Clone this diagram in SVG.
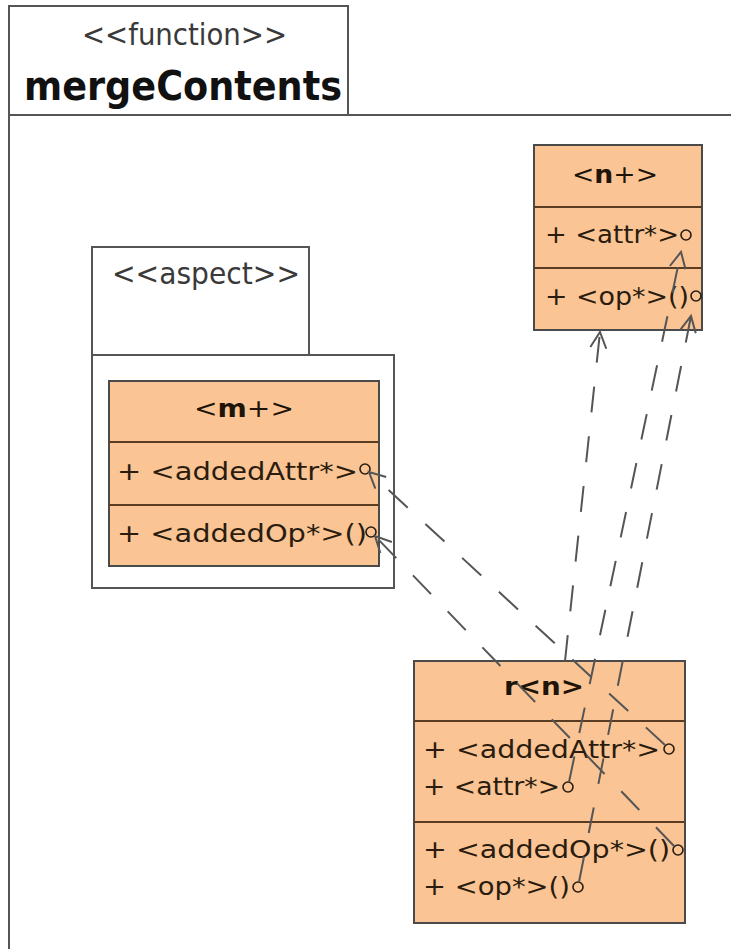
<svg xmlns="http://www.w3.org/2000/svg" width="731" height="949" viewBox="0 0 731 949">
<style>
  .frame { fill: #ffffff; stroke: #555555; stroke-width: 2; }
  .line { stroke: #555555; stroke-width: 2; fill: none; }
  .cls { fill: #FAC494; stroke: #4a4a4a; stroke-width: 2; }
  .div { stroke: #5a3c22; stroke-width: 2; }
  .st { font-family: "DejaVu Sans", "Liberation Sans", sans-serif; font-size: 30px; fill: #3a3a3a; }
  .name { font-family: "DejaVu Sans", "Liberation Sans", sans-serif; font-size: 41px; font-weight: bold; fill: #111111; }
  .title { font-family: "DejaVu Sans", "Liberation Sans", sans-serif; font-size: 25px; fill: #1e1408; }
  .b { font-weight: bold; }
  .mem { font-family: "DejaVu Sans", "Liberation Sans", sans-serif; font-size: 24px; fill: #2a1c0e; }
  .anchor { fill: none; stroke: #2a1c0e; stroke-width: 1.6; }
  .conn { fill: none; stroke: #555555; stroke-width: 2; stroke-dasharray: 26 24; }
</style>
<defs>
  <marker id="open" markerUnits="userSpaceOnUse" markerWidth="22" markerHeight="22" refX="17" refY="9" orient="auto">
    <path d="M1,1 L17,9 L1,17" fill="none" stroke="#555555" stroke-width="2"/>
  </marker>
</defs>

<g id="function-frame">
  <rect class="frame" x="9" y="6" width="339" height="109"/>
  <line class="line" x1="9" y1="115" x2="731" y2="115"/>
  <line class="line" x1="9" y1="6" x2="9" y2="949"/>
  <text class="st" x="82" y="45" textLength="205" lengthAdjust="spacingAndGlyphs">&lt;&lt;function&gt;&gt;</text>
  <text class="name" x="24" y="100" textLength="318" lengthAdjust="spacingAndGlyphs">mergeContents</text>
</g>

<g id="aspect-package">
  <rect class="frame" x="92" y="247" width="217" height="108"/>
  <rect class="frame" x="92" y="355" width="302" height="233"/>
  <text class="st" x="112" y="284" textLength="188" lengthAdjust="spacingAndGlyphs">&lt;&lt;aspect&gt;&gt;</text>
</g>

<g id="class-m">
  <rect class="cls" x="109" y="381" width="270" height="185"/>
  <line class="div" x1="109" y1="442" x2="379" y2="442"/>
  <line class="div" x1="109" y1="505" x2="379" y2="505"/>
  <text class="title" x="244" y="417" text-anchor="middle" textLength="100" lengthAdjust="spacingAndGlyphs">&lt;<tspan class="b">m</tspan>+&gt;</text>
  <text class="mem" x="117" y="480" textLength="241" lengthAdjust="spacingAndGlyphs">+ &lt;addedAttr*&gt;</text>
  <text class="mem" x="117" y="542" textLength="250" lengthAdjust="spacingAndGlyphs">+ &lt;addedOp*&gt;()</text>
</g>

<g id="class-n">
  <rect class="cls" x="534" y="145" width="168" height="185"/>
  <line class="div" x1="534" y1="207" x2="702" y2="207"/>
  <line class="div" x1="534" y1="268" x2="702" y2="268"/>
  <text class="title" x="615" y="183" text-anchor="middle" textLength="86" lengthAdjust="spacingAndGlyphs">&lt;<tspan class="b">n</tspan>+&gt;</text>
  <text class="mem" x="545" y="243" textLength="134" lengthAdjust="spacingAndGlyphs">+ &lt;attr*&gt;</text>
  <text class="mem" x="545" y="305" textLength="144" lengthAdjust="spacingAndGlyphs">+ &lt;op*&gt;()</text>
</g>

<g id="class-r">
  <rect class="cls" x="414" y="661" width="271" height="262"/>
  <line class="div" x1="414" y1="721" x2="685" y2="721"/>
  <line class="div" x1="414" y1="822" x2="685" y2="822"/>
  <text class="title b" x="544" y="695" text-anchor="middle" textLength="80" lengthAdjust="spacingAndGlyphs">r&lt;n&gt;</text>
  <text class="mem" x="423" y="758" textLength="237" lengthAdjust="spacingAndGlyphs">+ &lt;addedAttr*&gt;</text>
  <text class="mem" x="423" y="795" textLength="137" lengthAdjust="spacingAndGlyphs">+ &lt;attr*&gt;</text>
  <text class="mem" x="423" y="858" textLength="247" lengthAdjust="spacingAndGlyphs">+ &lt;addedOp*&gt;()</text>
  <text class="mem" x="423" y="895" textLength="147" lengthAdjust="spacingAndGlyphs">+ &lt;op*&gt;()</text>
</g>

<g id="connectors">
  <circle class="anchor" cx="365" cy="469" r="5"/>
  <circle class="anchor" cx="371" cy="532" r="5"/>
  <circle class="anchor" cx="686" cy="235" r="5"/>
  <circle class="anchor" cx="696" cy="296" r="5"/>
  <circle class="anchor" cx="669" cy="749" r="5"/>
  <circle class="anchor" cx="568" cy="787" r="5"/>
  <circle class="anchor" cx="678" cy="850" r="5"/>
  <circle class="anchor" cx="578" cy="887" r="5"/>
  <path class="conn" d="M665,745 L369,472" marker-end="url(#open)"/>
  <path class="conn" d="M674,846 L375,536" marker-end="url(#open)"/>
  <path class="conn" d="M565,661 L600,332" marker-end="url(#open)"/>
  <path class="conn" d="M569,782 L681,252" marker-end="url(#open)"/>
  <path class="conn" d="M579,882 L691,316" marker-end="url(#open)"/>
</g>
</svg>
